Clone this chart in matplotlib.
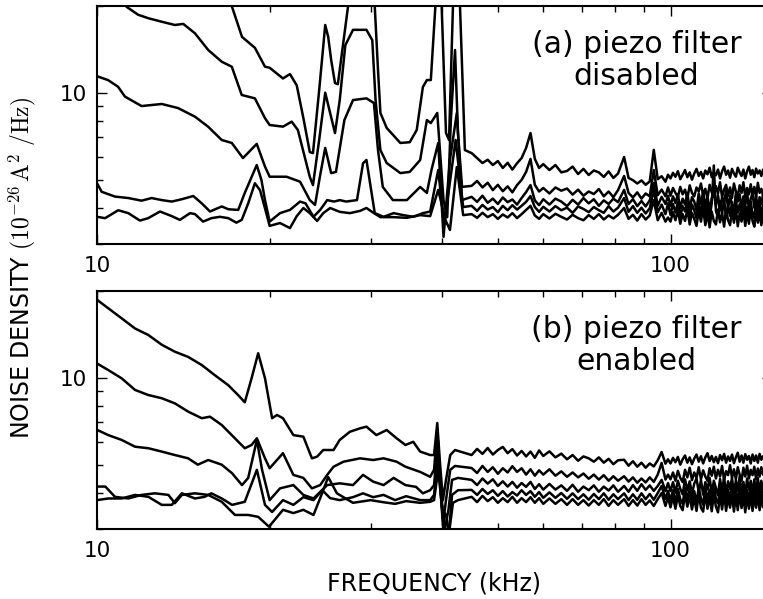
import matplotlib
matplotlib.use('Agg')
import matplotlib.pyplot as plt
import numpy as np
from matplotlib.ticker import FuncFormatter, NullFormatter, LogLocator

plt.rcParams['mathtext.fontset'] = 'cm'

# frequency grid (kHz) for the noisy high-frequency part of every trace
f_hi = [45, 46, 47, 48, 49, 50, 51, 52, 53, 54, 55, 56, 57, 58, 59, 60,
        61.5, 63, 64.5, 66, 67.5, 69, 70.5, 72, 73.5, 75, 76.5, 78, 79.5, 81,
        83, 84.5, 86, 87.5, 89, 90.5, 92, 93.5, 95, 96.5, 98, 99,
        100, 101, 102, 103, 104, 105, 106, 107, 108, 109,
        110, 111, 112, 113, 114, 115, 116, 117, 118, 119,
        120, 121, 122, 123, 124, 125, 126, 127, 128, 129,
        130, 131, 132, 133, 134, 135, 136, 137, 138, 139,
        140, 141, 142, 143, 144, 145, 146]

# ---- (a) piezo filter disabled: (freq kHz, noise density) below 45 kHz ----
a1_lo = [(10.0, 40.0), (16.5, 23.0), (17.2, 19.8), (17.9, 15.6), (18.85, 14.3), (19.63, 12.3),
         (20.0, 12.2), (21.1, 11.2), (21.7, 11.6), (22.3, 10.6), (22.9, 8.17), (23.5, 6.23),
         (23.8, 6.18), (24.4, 10.2), (25.0, 17.15), (25.3, 15.6), (25.6, 13.0), (26.0, 10.8),
         (26.3, 10.7), (26.85, 14.6), (27.4, 19.9), (27.9, 24.0), (30.3, 24.0), (30.5, 19.9),
         (30.9, 12.0), (31.2, 8.51), (32.0, 7.55), (33.8, 6.70), (35.1, 6.74), (36.1, 7.43),
         (37.0, 10.46), (37.6, 11.06), (38.2, 11.06), (38.9, 19.9), (39.2, 25.0), (39.6, 25.0),
         (39.9, 19.9), (40.6, 7.25), (41.1, 6.86), (41.75, 19.9), (42.1, 25.0), (42.6, 25.0),
         (42.95, 19.9), (43.8, 6.33)]
a2_lo = [(10.0, 30.0), (11.0, 21.0), (11.27, 19.8), (11.8, 18.6), (12.29, 18.1), (12.97, 17.6),
         (13.67, 17.15), (14.14, 17.3), (14.82, 16.05), (15.63, 14.05), (16.5, 12.8), (17.18, 12.3),
         (17.88, 9.82), (18.85, 9.56), (19.63, 8.16), (20.0, 7.73), (21.1, 7.63), (21.85, 7.94),
         (22.4, 7.43), (23.5, 5.11), (23.8, 4.79), (24.4, 6.86), (25.0, 10.0), (25.3, 9.06),
         (26.0, 7.25), (26.5, 9.43), (27.1, 14.6), (27.95, 16.5), (29.5, 16.5), (30.2, 15.2),
         (30.6, 9.43), (31.2, 6.33), (32.0, 5.71), (33.8, 5.27), (35.1, 5.32), (36.6, 5.85),
         (37.6, 8.04), (38.2, 7.85), (39.2, 8.51), (40.2, 4.25), (40.8, 3.71), (41.4, 8.04),
         (42.1, 14.05), (42.6, 7.25), (43.3, 4.72)]
a3_lo = [(10.0, 11.4), (10.45, 11.06), (10.88, 10.49), (11.19, 9.69), (11.96, 8.99), (12.97, 9.14),
         (13.84, 8.85), (14.82, 8.26), (15.62, 7.63), (16.5, 6.86), (17.18, 6.70), (17.97, 5.94),
         (18.99, 6.65), (19.63, 5.55), (20.0, 5.12), (21.4, 5.12), (22.6, 4.92), (23.5, 4.25),
         (24.0, 4.09), (24.5, 5.19), (25.0, 6.44), (25.6, 5.27), (26.1, 5.32), (27.0, 8.04),
         (27.95, 9.43), (29.5, 9.56), (30.4, 9.21), (30.9, 6.33), (31.5, 4.72), (32.8, 4.25),
         (34.7, 4.25), (36.6, 4.72), (37.6, 4.50), (38.3, 5.40), (39.35, 6.70), (40.2, 3.17),
         (41.25, 5.85), (42.4, 8.51), (43.3, 4.25)]
a4_lo = [(10.0, 4.86), (10.19, 4.54), (10.75, 4.37), (11.34, 4.32), (11.96, 4.23), (12.45, 4.32),
         (12.97, 4.25), (13.5, 4.20), (14.06, 4.28), (14.72, 4.39), (15.23, 4.14), (15.74, 3.88),
         (16.5, 4.04), (16.95, 3.95), (17.63, 3.93), (18.1, 4.50), (18.99, 5.62), (19.35, 4.99),
         (19.63, 4.25), (20.0, 3.58), (20.85, 3.83), (21.7, 3.93), (22.6, 4.20), (23.1, 4.14),
         (23.85, 3.72), (24.5, 3.93), (25.2, 4.25), (25.9, 4.20), (26.5, 4.25), (27.2, 4.20),
         (28.4, 4.25), (29.1, 5.70), (29.5, 5.85), (30.0, 4.72), (30.5, 3.83), (31.6, 3.72),
         (32.9, 3.83), (34.2, 3.77), (35.6, 3.72), (37.0, 3.83), (38.1, 3.88), (39.35, 5.40),
         (40.3, 3.49), (42.2, 6.86), (43.5, 4.02)]
a5_lo = [(10.0, 3.72), (10.33, 3.68), (10.89, 3.92), (11.34, 3.83), (11.88, 3.61), (12.28, 3.68),
         (12.88, 3.88), (13.5, 3.74), (13.95, 3.63), (14.53, 3.83), (14.82, 3.80), (15.31, 3.58),
         (15.83, 3.68), (16.38, 3.72), (16.94, 3.68), (17.5, 3.55), (17.88, 3.63), (18.35, 4.14),
         (18.85, 4.86), (19.24, 4.60), (19.63, 3.98), (20.0, 3.46), (20.85, 3.54), (21.7, 3.40),
         (22.3, 3.74), (22.9, 3.99), (23.5, 3.83), (24.2, 3.60), (24.8, 3.83), (25.5, 3.99),
         (26.5, 3.87), (27.6, 3.83), (28.75, 3.90), (29.5, 3.99), (30.4, 3.83), (31.2, 3.71),
         (32.8, 3.71), (34.7, 3.69), (36.6, 3.77), (38.1, 3.74), (39.35, 4.61), (40.5, 3.63),
         (41.25, 3.35), (42.4, 5.53), (43.5, 3.77)]

# values on f_hi (45-60, 61.5-99, 100-146)
a1_hi = [6.18, 5.94, 5.71, 5.86, 5.62, 5.80, 5.49, 5.72, 5.42, 5.70, 5.94, 6.44, 7.25, 5.90, 5.49, 5.66,
         5.40, 5.62, 5.30, 5.36, 5.55, 5.23, 5.45, 5.19, 5.38, 5.30, 5.11, 5.34, 5.07, 5.25,
         5.99, 5.07, 4.98, 4.85, 4.97, 4.80, 4.93, 6.34, 5.02, 5.14, 4.92, 5.20,
         5.05, 5.28, 5.12, 5.35, 5.02, 5.20, 5.40, 5.10, 5.30, 5.00,
         5.25, 5.45, 5.15, 5.32, 5.05, 5.38, 5.22, 5.50, 5.10, 5.30,
         5.18, 5.42, 5.05, 5.35, 5.55, 5.20, 5.38, 5.08, 5.45, 5.25,
         5.12, 5.50, 5.30, 5.15, 5.42, 5.05, 5.35, 5.55, 5.20, 5.40,
         5.10, 5.46, 5.25, 5.38, 5.15, 5.42, 5.30]
a2_hi = [4.76, 4.95, 4.70, 4.88, 4.60, 4.80, 4.56, 4.74, 4.52, 4.79, 4.99, 5.32, 5.90, 4.80, 4.55, 4.68,
         4.48, 4.70, 4.58, 4.66, 4.44, 4.62, 4.40, 4.55, 4.46, 4.64, 4.38, 4.55, 4.35, 4.60,
         5.15, 4.50, 4.34, 4.52, 4.30, 4.48, 4.38, 5.40, 4.42, 4.62, 4.38, 4.70,
         4.40, 4.68, 4.50, 4.35, 4.72, 4.45, 4.62, 4.30, 4.78, 4.50,
         4.38, 4.70, 4.55, 4.85, 4.42, 4.65, 4.30, 4.80, 4.52, 4.40,
         4.75, 4.48, 4.90, 4.35, 4.62, 4.80, 4.40, 4.70, 4.32, 4.85,
         4.55, 4.38, 4.78, 4.50, 4.90, 4.36, 4.68, 4.45, 4.82, 4.40,
         4.72, 4.35, 4.88, 4.50, 4.65, 4.42, 4.66]
a3_hi = [4.36, 4.19, 4.40, 4.16, 4.30, 4.12, 4.34, 4.18, 4.27, 4.10, 4.32, 4.53, 4.79, 4.24, 4.08, 4.28,
         4.10, 4.30, 4.20, 4.05, 4.26, 4.10, 4.32, 4.14, 4.28, 4.06, 4.24, 4.12, 4.30, 4.18,
         4.61, 4.12, 4.28, 4.05, 4.22, 4.04, 4.24, 4.87, 4.06, 4.36, 4.12, 4.40,
         4.05, 4.38, 4.15, 4.45, 3.98, 4.30, 4.10, 4.50, 3.95, 4.35,
         4.20, 3.92, 4.48, 4.12, 4.55, 4.00, 4.40, 3.90, 4.30, 4.52,
         4.05, 4.42, 3.92, 4.35, 4.15, 4.58, 3.95, 4.40, 4.10, 3.88,
         4.50, 4.20, 4.45, 3.95, 4.38, 4.05, 4.55, 3.92, 4.30, 4.48,
         4.00, 4.42, 3.90, 4.35, 4.12, 4.46, 4.30]
a4_hi = [4.06, 3.90, 4.09, 3.94, 4.02, 3.86, 4.06, 3.92, 4.08, 3.94, 4.06, 4.19, 4.39, 4.02, 3.87, 4.03,
         3.88, 4.05, 3.92, 4.00, 3.84, 4.04, 3.96, 3.86, 4.02, 3.92, 3.84, 4.05, 3.88, 4.00,
         4.32, 3.87, 4.05, 3.84, 4.00, 3.82, 3.98, 4.61, 3.86, 4.10, 3.80, 4.14,
         3.78, 4.12, 3.85, 4.18, 3.72, 4.05, 3.88, 4.22, 3.70, 4.10,
         3.92, 3.68, 4.20, 3.80, 4.25, 3.72, 4.08, 3.65, 4.15, 5.60,
         3.90, 3.70, 4.22, 3.82, 4.28, 3.68, 4.05, 3.75, 4.18, 3.64,
         4.25, 3.85, 4.12, 3.70, 4.30, 3.78, 4.02, 3.66, 4.20, 3.80,
         3.68, 4.22, 3.76, 4.12, 3.70, 4.18, 4.05]
a5_hi = [3.80, 3.69, 3.84, 3.71, 3.80, 3.66, 3.79, 3.70, 3.83, 3.68, 3.80, 3.93, 4.06, 3.76, 3.66, 3.80,
         3.67, 3.81, 3.72, 3.64, 3.78, 3.68, 3.62, 3.77, 3.66, 3.80, 3.64, 3.76, 3.67, 3.78,
         3.99, 3.66, 3.78, 3.61, 3.80, 3.64, 3.76, 4.25, 3.62, 3.84, 3.58, 3.70,
         3.58, 3.86, 3.62, 3.92, 3.52, 3.80, 3.60, 3.95, 3.50, 3.84,
         3.66, 3.46, 3.90, 3.58, 3.98, 3.48, 3.82, 3.42, 3.88, 3.60,
         3.50, 3.94, 3.56, 3.85, 3.44, 3.96, 3.62, 3.48, 3.90, 3.55,
         3.98, 3.45, 3.82, 3.58, 3.92, 3.46, 3.86, 3.52, 3.95, 3.60,
         3.44, 3.90, 3.55, 3.85, 3.48, 3.80, 3.77]

# ---- (b) piezo filter enabled ----
b1_lo = [(10.0, 18.6), (10.46, 17.4), (11.04, 16.05), (11.65, 14.8), (12.29, 14.05), (12.97, 13.0),
         (13.67, 12.3), (14.42, 11.8), (15.23, 11.06), (16.05, 10.2), (16.93, 9.43), (17.62, 8.71),
         (18.1, 8.22), (18.6, 9.95), (19.1, 12.15), (19.63, 9.95), (20.2, 7.24), (20.6, 7.43),
         (21.1, 7.24), (22.0, 6.33), (22.9, 6.25), (23.7, 5.26), (24.2, 5.33), (24.8, 5.62),
         (25.85, 5.62), (26.5, 6.09), (27.6, 6.5), (28.75, 6.68), (29.5, 6.77), (30.7, 6.33),
         (32.0, 6.59), (33.3, 6.17), (34.5, 5.85), (35.6, 6.0), (36.6, 5.55), (38.1, 5.4),
         (38.7, 5.4), (39.2, 6.97), (39.6, 5.19), (40.1, 3.77), (40.6, 4.43), (41.3, 5.40),
         (42.1, 5.62)]
b2_lo = [(10.0, 11.2), (10.46, 10.63), (11.04, 9.95), (11.65, 9.07), (12.29, 8.71), (12.97, 8.49),
         (13.67, 8.15), (14.42, 7.63), (15.23, 7.24), (15.74, 7.33), (16.5, 6.86), (17.4, 6.17),
         (18.1, 5.70), (18.6, 5.85), (19.0, 6.17), (19.63, 5.26), (20.0, 4.86), (21.1, 5.48),
         (22.0, 4.61), (22.9, 4.50), (23.7, 4.14), (24.5, 4.25), (25.2, 4.61), (25.85, 4.92),
         (26.9, 5.12), (28.75, 5.26), (30.3, 5.19), (31.6, 5.26), (33.3, 5.12), (34.5, 4.92),
         (36.6, 4.72), (38.1, 4.54), (38.7, 4.80), (39.2, 6.60), (39.6, 4.43), (40.1, 3.09),
         (40.6, 3.77), (41.3, 4.80), (42.1, 4.95)]
b3_lo = [(10.0, 6.60), (10.46, 6.33), (11.04, 6.09), (11.65, 5.77), (12.29, 5.70), (12.97, 5.55),
         (13.67, 5.40), (14.42, 5.26), (14.99, 5.0), (15.63, 5.19), (16.5, 5.0), (17.2, 4.67),
         (17.9, 4.25), (18.35, 4.50), (19.0, 6.09), (19.4, 4.80), (20.0, 3.77), (20.85, 4.14),
         (22.0, 4.25), (22.9, 3.93), (23.85, 3.82), (25.2, 4.25), (26.5, 4.31), (27.95, 4.25),
         (29.1, 4.61), (30.3, 4.37), (31.6, 4.25), (32.9, 4.50), (34.5, 4.25), (36.0, 4.19),
         (37.0, 3.98), (38.1, 4.08), (38.7, 4.25), (39.3, 6.09), (39.85, 3.77), (40.3, 2.9),
         (41.0, 3.49), (41.6, 4.43), (42.6, 4.50)]
b4_lo = [(10.0, 3.77), (10.46, 3.82), (11.04, 3.82), (11.65, 3.93), (12.29, 3.87), (12.97, 3.63),
         (13.5, 3.63), (14.06, 3.98), (14.82, 3.82), (15.4, 3.87), (15.83, 3.98), (16.5, 3.82),
         (17.2, 3.63), (18.1, 3.72), (19.0, 4.80), (19.63, 3.63), (20.2, 3.43), (21.1, 3.77),
         (22.0, 3.63), (22.9, 3.86), (23.85, 3.77), (24.7, 4.08), (25.5, 3.83), (26.5, 3.77),
         (27.95, 3.86), (29.1, 3.98), (30.3, 3.86), (31.6, 3.93), (33.1, 3.77), (34.6, 3.89),
         (36.6, 3.77), (38.1, 3.77), (38.7, 3.93), (39.3, 5.40), (40.0, 3.63), (40.5, 2.9),
         (41.1, 2.95), (41.6, 3.93), (42.6, 4.08)]
b5_lo = [(10.0, 4.20), (10.34, 4.20), (10.75, 3.87), (11.34, 3.82), (11.96, 3.93), (12.62, 3.98),
         (13.32, 3.93), (13.67, 3.68), (14.06, 3.93), (14.82, 3.98), (15.63, 3.93), (16.5, 3.72),
         (17.4, 3.35), (18.35, 3.35), (19.1, 3.30), (19.95, 3.05), (21.1, 3.49), (22.0, 3.40),
         (22.9, 3.49), (23.85, 3.35), (24.5, 3.83), (25.3, 4.53), (26.2, 3.98), (27.95, 3.69),
         (30.0, 3.77), (31.5, 3.71), (33.1, 3.66), (34.6, 3.74), (36.6, 3.69), (38.1, 3.72),
         (38.7, 3.77), (39.35, 4.80), (40.0, 3.49), (40.6, 3.35), (41.1, 2.9), (41.75, 3.69),
         (42.6, 3.77)]

b1_hi = [5.40, 5.67, 5.45, 5.71, 5.42, 5.62, 5.76, 5.48, 5.66, 5.38, 5.58, 5.34, 5.55, 5.28, 5.60, 5.36,
         5.56, 5.30, 5.46, 5.22, 5.40, 5.16, 5.34, 5.26, 5.12, 5.30, 5.08, 5.24, 5.02, 5.18,
         5.20, 4.96, 5.14, 4.92, 5.08, 4.88, 5.05, 4.93, 5.18, 5.53, 5.04, 5.22,
         5.05, 5.28, 5.10, 5.32, 5.00, 5.22, 5.38, 5.08, 5.30, 5.02,
         5.25, 5.42, 5.12, 5.35, 5.05, 5.30, 5.48, 5.15, 5.36, 5.10,
         5.32, 5.06, 5.40, 5.18, 5.45, 5.08, 5.34, 5.15, 5.42, 5.06,
         5.30, 5.50, 5.12, 5.38, 5.08, 5.44, 5.20, 5.36, 5.05, 5.42,
         5.15, 5.38, 5.08, 5.45, 5.20, 5.35, 5.27]
b2_hi = [4.87, 4.68, 4.95, 4.72, 4.90, 4.65, 4.86, 4.70, 4.94, 4.72, 4.86, 4.62, 4.82, 4.58, 4.78, 4.62,
         4.82, 4.58, 4.74, 4.54, 4.70, 4.52, 4.66, 4.47, 4.62, 4.44, 4.60, 4.40, 4.56, 4.40,
         4.56, 4.37, 4.52, 4.33, 4.48, 4.34, 4.52, 4.36, 4.62, 5.07, 4.44, 4.62,
         4.45, 4.70, 4.40, 4.76, 4.50, 4.35, 4.80, 4.52, 4.88, 4.42,
         4.70, 4.50, 4.90, 4.45, 4.78, 4.55, 4.40, 4.86, 4.58, 4.92,
         4.48, 4.80, 4.55, 4.95, 4.42, 4.75, 4.60, 4.98, 4.50, 4.82,
         4.45, 4.90, 4.62, 4.40, 4.88, 4.55, 4.96, 4.48, 4.80, 4.60,
         4.92, 4.45, 4.85, 4.55, 4.90, 4.62, 4.75]
b3_hi = [4.43, 4.25, 4.48, 4.30, 4.45, 4.22, 4.38, 4.20, 4.36, 4.16, 4.32, 4.19, 4.36, 4.12, 4.28, 4.10,
         4.29, 4.10, 4.24, 4.06, 4.26, 4.03, 4.20, 4.08, 4.24, 4.03, 4.20, 4.07, 4.24, 4.03,
         4.22, 4.03, 4.25, 4.06, 4.28, 4.09, 4.24, 4.06, 4.22, 4.43, 4.05, 4.32,
         4.05, 4.35, 4.00, 4.40, 4.12, 3.95, 4.45, 4.08, 4.38, 3.96,
         4.30, 4.48, 4.02, 4.42, 3.94, 4.35, 4.10, 4.50, 3.98, 4.40,
         4.15, 3.92, 4.46, 4.05, 4.52, 3.96, 4.38, 4.12, 4.50, 3.94,
         4.42, 4.05, 4.55, 4.00, 4.36, 3.92, 4.48, 4.10, 4.40, 3.96,
         4.45, 4.02, 4.50, 3.98, 4.40, 4.10, 4.29]
b4_hi = [4.09, 3.93, 4.12, 3.96, 4.08, 3.90, 4.05, 3.88, 4.02, 3.91, 4.08, 3.93, 4.05, 3.87, 4.02, 3.84,
         4.01, 3.84, 3.99, 3.81, 3.98, 3.80, 3.95, 3.78, 3.96, 3.80, 3.98, 3.78, 3.95, 3.80,
         3.98, 3.77, 3.95, 3.78, 3.98, 3.80, 3.96, 3.78, 3.99, 4.22, 3.80, 4.06,
         3.76, 4.08, 3.70, 4.12, 3.80, 3.66, 4.15, 3.78, 4.20, 3.70,
         4.05, 3.68, 4.18, 3.82, 3.64, 4.22, 3.75, 4.10, 3.66, 4.24,
         3.80, 3.68, 4.15, 3.74, 4.25, 3.64, 4.10, 3.80, 4.22, 3.68,
         4.12, 3.62, 4.20, 3.76, 4.26, 3.66, 4.08, 3.72, 4.22, 3.65,
         4.15, 3.78, 4.20, 3.68, 4.12, 3.75, 3.96]
b5_hi = [3.87, 3.71, 3.90, 3.74, 3.86, 3.69, 3.83, 3.71, 3.87, 3.69, 3.83, 3.71, 3.86, 3.69, 3.83, 3.66,
         3.82, 3.66, 3.80, 3.63, 3.80, 3.63, 3.77, 3.61, 3.77, 3.63, 3.80, 3.60, 3.77, 3.63,
         3.80, 3.60, 3.77, 3.61, 3.80, 3.63, 3.76, 3.60, 3.80, 3.99, 3.60, 3.86,
         3.56, 3.88, 3.52, 3.92, 3.60, 3.48, 3.95, 3.58, 3.90, 3.50,
         3.85, 3.46, 3.96, 3.55, 3.44, 3.98, 3.52, 3.88, 3.45, 3.94,
         3.58, 3.42, 3.92, 3.50, 3.98, 3.46, 3.86, 3.55, 3.95, 3.44,
         3.90, 3.48, 3.99, 3.54, 3.88, 3.42, 3.94, 3.52, 3.96, 3.46,
         3.90, 3.55, 3.96, 3.48, 3.88, 3.56, 3.77]

panel_a = [(a1_lo, a1_hi), (a2_lo, a2_hi), (a3_lo, a3_hi), (a4_lo, a4_hi), (a5_lo, a5_hi)]
panel_b = [(b1_lo, b1_hi), (b2_lo, b2_hi), (b3_lo, b3_hi), (b4_lo, b4_hi), (b5_lo, b5_hi)]
labels = ['(a) piezo filter\ndisabled', '(b) piezo filter\nenabled']

fig = plt.figure(figsize=(7.63, 5.99), dpi=100)
ax_a = fig.add_axes([97 / 763, 1 - 243.8 / 599, 674.5 / 763, 238.1 / 599])
ax_b = fig.add_axes([97 / 763, 1 - 528.8 / 599, 674.5 / 763, 238.1 / 599])

for ax, traces, lab in zip([ax_a, ax_b], [panel_a, panel_b], labels):
    for lo, hi in traces:
        f = np.array([p[0] for p in lo] + f_hi)
        v = np.array([p[1] for p in lo] + hi)
        ax.plot(f, v, color='black', lw=1.8)
    ax.set_xscale('log')
    ax.set_yscale('log')
    ax.set_xlim(10, 150)
    ax.set_ylim(3, 20)
    ax.xaxis.set_major_formatter(FuncFormatter(lambda x, p: f'{x:g}'))
    ax.yaxis.set_major_formatter(FuncFormatter(lambda x, p: f'{x:g}'))
    ax.xaxis.set_minor_locator(LogLocator(subs=np.arange(2, 10)))
    ax.yaxis.set_minor_locator(LogLocator(subs=np.arange(2, 10)))
    ax.xaxis.set_minor_formatter(NullFormatter())
    ax.yaxis.set_minor_formatter(NullFormatter())
    ax.tick_params(which='both', direction='in', top=True, right=True, width=1.0)
    ax.tick_params(which='major', length=7, labelsize=15.5)
    ax.tick_params(which='minor', length=4.3)
    ax.tick_params(axis='x', which='major', pad=9)
    ax.tick_params(axis='y', which='major', pad=7)
    for sp in ax.spines.values():
        sp.set_linewidth(1.5)
    ax.text(0.80, 0.897, lab, transform=ax.transAxes, ha='center', va='top',
            fontsize=21.5, linespacing=1.1)

fig.text(22 / 763, 1 - 268 / 599,
         'NOISE DENSITY $(10^{-26}\\,\\mathrm{A}^2\\ /\\mathrm{Hz})$',
         rotation=90, ha='center', va='center', fontsize=17)
fig.text(434 / 763, 1 - 590 / 599, 'FREQUENCY (kHz)', ha='center', va='baseline', fontsize=17)

fig.savefig('out.png', dpi=100)
